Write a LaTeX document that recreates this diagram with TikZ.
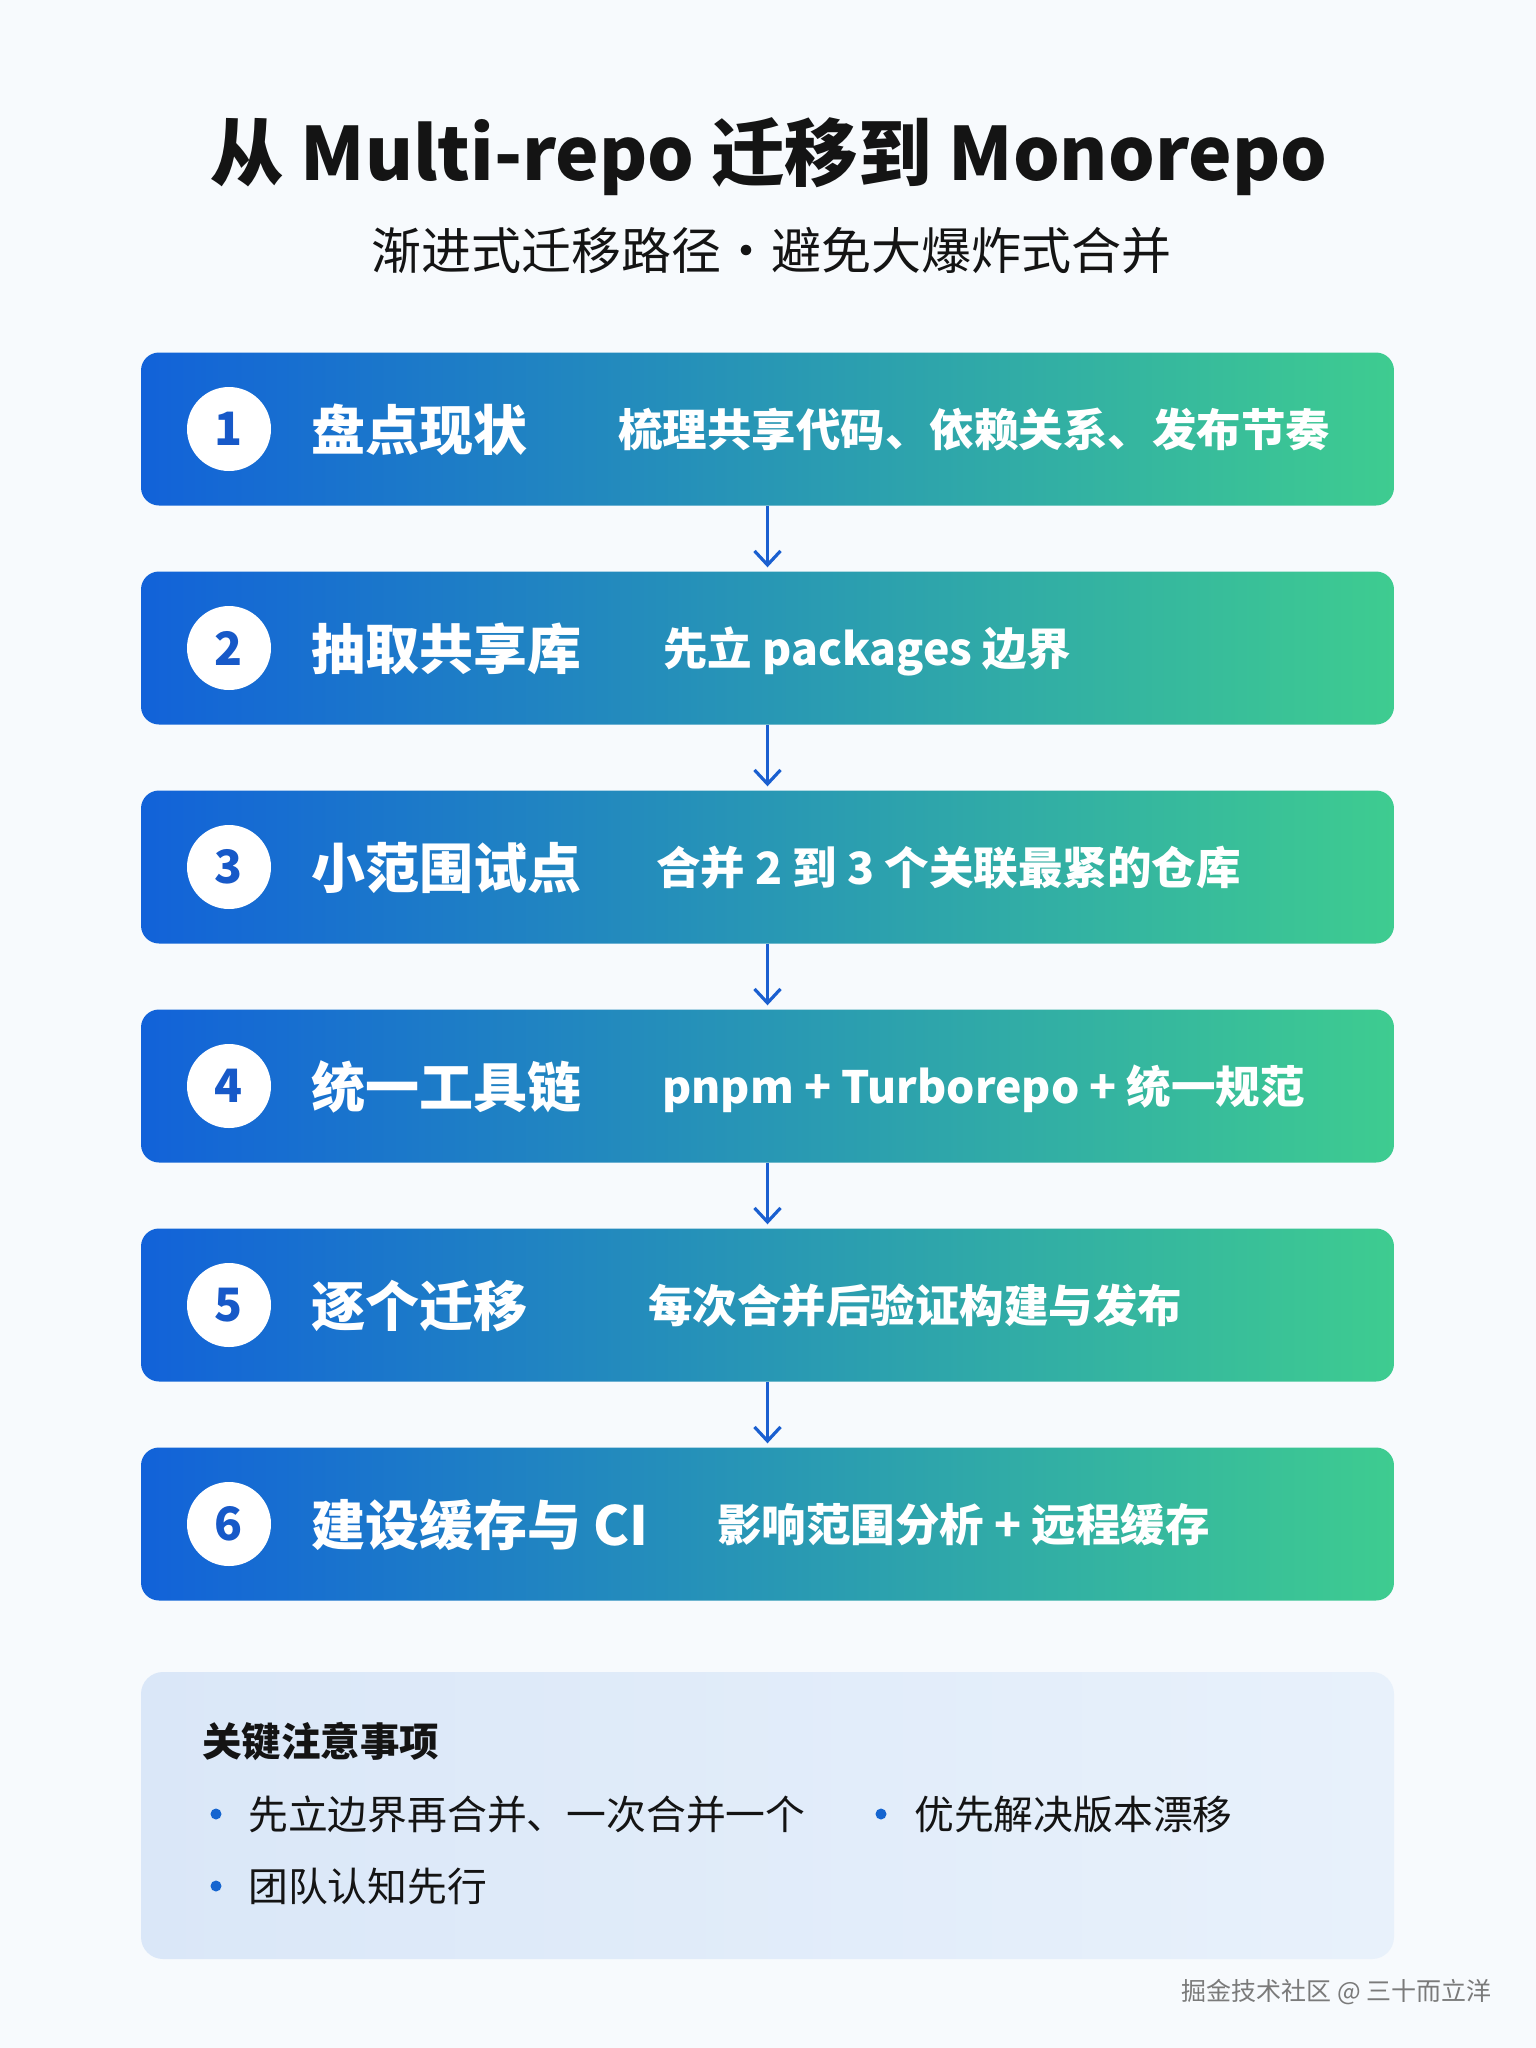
\documentclass[tikz,border=0pt]{standalone}
\usepackage{fontspec}
\setmainfont{Noto Sans CJK SC}
\usetikzlibrary{arrows.meta}

\definecolor{pagebg}{HTML}{F7FAFD}
\definecolor{stepblue}{HTML}{1262D9}
\definecolor{stepteal}{HTML}{2294BA}
\definecolor{stepgreen}{HTML}{3ECC90}
\definecolor{numblue}{HTML}{1759C8}
\definecolor{arrowblue}{HTML}{1A5FD0}
\definecolor{notebg}{HTML}{DAE7F8}
\definecolor{notebgright}{HTML}{E8F1FB}
\definecolor{dotblue}{HTML}{1565D0}
\definecolor{inkdark}{HTML}{141414}
\definecolor{creditgray}{HTML}{7A7A7A}

\tikzset{
  step-box/.style={
    rectangle,
    rounded corners=18pt,
    minimum width=1253pt,
    minimum height=153pt,
    inner sep=0pt,
    left color=stepblue,
    middle color=stepteal,
    right color=stepgreen
  },
  step-num/.style={circle, fill=white, minimum size=84pt, inner sep=0pt, text=numblue, font=\fontsize{46}{46}\selectfont\bfseries},
  step-title/.style={anchor=base west, yshift=-21pt, inner sep=0pt, text=white, font=\fontsize{54}{54}\selectfont\bfseries},
  step-desc/.style={anchor=base west, yshift=-17pt, inner sep=0pt, text=white, font=\fontsize{44.5}{44.5}\selectfont\bfseries},
  step-arrow/.style={draw=arrowblue, line width=3.2pt, shorten >=4pt, -{Straight Barb[length=14pt,width=26pt,line width=3.2pt]}},
  note-box/.style={
    rectangle,
    rounded corners=22pt,
    minimum width=1253pt,
    minimum height=287pt,
    inner sep=0pt,
    left color=notebg,
    right color=notebgright
  },
  note-head/.style={anchor=base west, yshift=-15pt, inner sep=0pt, text=inkdark, font=\fontsize{39.5}{39.5}\selectfont\bfseries},
  note-dot/.style={circle, fill=dotblue, minimum size=11pt, inner sep=0pt},
  note-text/.style={anchor=base west, yshift=-15pt, inner sep=0pt, text=inkdark, font=\fontsize{39.8}{39.8}\selectfont}
}

% one row of the migration path: index, y, title, x of the description, description
\newcommand{\migstep}[5]{
  \node[step-box] (box#1) at (767.5,#2) {};
  \node[step-num] (num#1) at (229,#2) {#1};
  \node[step-title] (title#1) at (311,#2) {#3};
  \node[step-desc] (desc#1) at (#4,#2) {#5};
}

\begin{document}
\begin{tikzpicture}[x=1pt, y=-1pt]
  \useasboundingbox (0,0) rectangle (1536,2048);
  \fill[pagebg] (0,0) rectangle (1536,2048);

  % --- Heading ---
  \node[text=inkdark, font=\fontsize{73.5}{73.5}\selectfont\bfseries] (title) at (769,157) {从 Multi-repo 迁移到 Monorepo};
  \node[text=inkdark, font=\fontsize{50}{50}\selectfont] (subtitle) at (771,251) {渐进式迁移路径・避免大爆炸式合并};

  % --- The six steps ---
  \migstep{1}{429}{盘点现状}{618}{梳理共享代码、依赖关系、发布节奏}
  \migstep{2}{648}{抽取共享库}{663}{先立 packages 边界}
  \migstep{3}{867}{小范围试点}{656}{合并 2 到 3 个关联最紧的仓库}
  \migstep{4}{1086}{统一工具链}{662}{pnpm + Turborepo + 统一规范}
  \migstep{5}{1305}{逐个迁移}{648}{每次合并后验证构建与发布}
  \migstep{6}{1524}{建设缓存与 CI}{717}{影响范围分析 + 远程缓存}

  % --- Connectors ---
  \draw[step-arrow] (box1.south) -- (box2.north);
  \draw[step-arrow] (box2.south) -- (box3.north);
  \draw[step-arrow] (box3.south) -- (box4.north);
  \draw[step-arrow] (box4.south) -- (box5.north);
  \draw[step-arrow] (box5.south) -- (box6.north);

  % --- Key notes ---
  \node[note-box] (notes) at (767.5,1815.5) {};
  \node[note-head] (notehead) at (202,1741) {关键注意事项};
  \node[note-dot] (dot1) at (216,1814) {};
  \node[note-text] (tip1) at (248,1814) {先立边界再合并、一次合并一个};
  \node[note-dot] (dot2) at (881,1814) {};
  \node[note-text] (tip2) at (914,1814) {优先解决版本漂移};
  \node[note-dot] (dot3) at (216,1886) {};
  \node[note-text] (tip3) at (248,1886) {团队认知先行};

  % --- Credit ---
  \node[anchor=east, inner sep=0pt, text=creditgray, font=\fontsize{25}{25}\selectfont] (credit) at (1492,1992) {掘金技术社区 @ 三十而立洋};
\end{tikzpicture}
\end{document}
